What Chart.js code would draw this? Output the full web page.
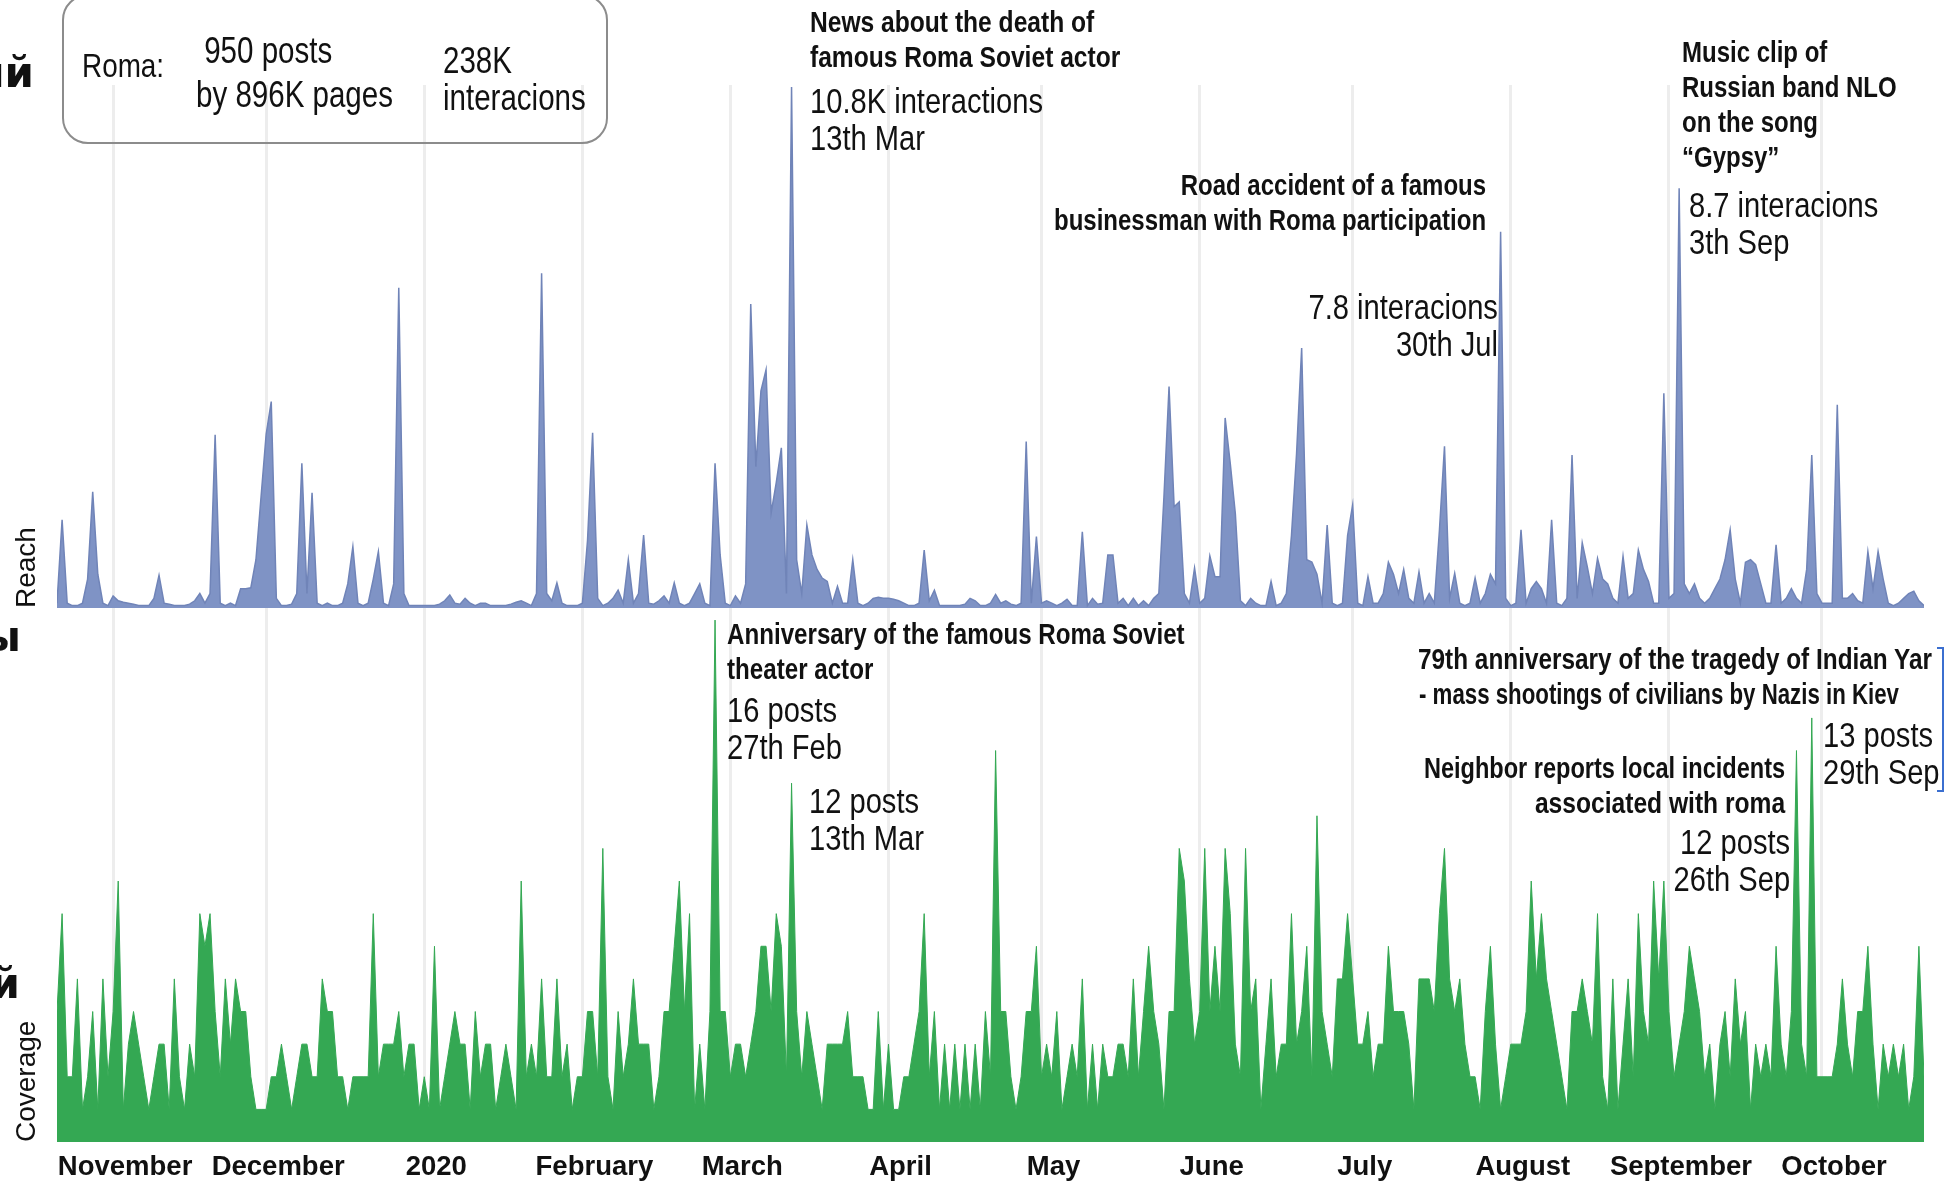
<!DOCTYPE html>
<html>
<head>
<meta charset="utf-8">
<title>Roma: reach and coverage</title>
<script src="https://cdn.jsdelivr.net/npm/chart.js@4.4.1/dist/chart.umd.min.js"></script>
<style>
  html, body { margin:0; padding:0; background:#fff; }
  #wrap { position:relative; width:1946px; height:1189px; overflow:hidden; }
  #wrap canvas { position:absolute; left:0; top:0; }
  /* narrow look: Liberation Sans squeezed horizontally */
  .note { position:absolute; white-space:nowrap; color:#111;
          font-family:'Liberation Sans',Arial,sans-serif;
          transform:scaleX(0.82); transform-origin:left top; }
  .rt { text-align:right; transform-origin:right top; }
  .hd { font-weight:bold; font-size:30px; line-height:35px; }
  .vl { font-size:35.5px; line-height:37px; }
  .cut { font-family:'DejaVu Sans','Liberation Sans',sans-serif; font-weight:bold; font-size:42px; line-height:42px;
         text-align:right; transform:none; }
  #box { position:absolute; left:62px; top:-6px; width:542px; height:146px;
         border:2px solid #8c8c8c; border-radius:26px; }
  #bracket { position:absolute; left:1937px; top:647px; width:5px; height:141px;
             border:2px solid #3b6fd0; border-left:none; }
</style>
</head>
<body>
<div id="wrap">
  <canvas id="c" width="1946" height="1189"></canvas>

  <div class="note cut" style="right:1912px; top:52px;">ий</div>
  <div class="note cut" style="right:1925px; top:616px;">ы</div>
  <div class="note cut" style="right:1926px; top:963px;">й</div>

  <div id="box"></div>
  <div class="note" style="left:82px; top:45px; font-size:34px; line-height:40px;">Roma:</div>
  <div class="note" style="left:196px; top:29px; font-size:36px; line-height:44px;">&nbsp;950 posts<br>by 896K pages</div>
  <div class="note" style="left:443px; top:42px; font-size:36px; line-height:37px;">238K<br>interacions</div>

  <div class="note hd" style="left:810px; top:4px;">News about the death of<br>famous Roma Soviet actor</div>
  <div class="note vl" style="left:810px; top:83px;">10.8K interactions<br>13th Mar</div>
  <div class="note hd rt" style="right:460px; top:167px; transform:scaleX(0.8);">Road accident of a famous<br>businessman with Roma participation</div>
  <div class="note vl rt" style="right:448px; top:289px;">7.8 interacions<br>30th Jul</div>
  <div class="note hd" style="left:1682px; top:34px; transform:scaleX(0.8);">Music clip of<br>Russian band NLO<br>on the song<br>“Gypsy”</div>
  <div class="note vl" style="left:1689px; top:187px;">8.7 interacions<br>3th Sep</div>

  <div class="note hd" style="left:727px; top:616px; transform:scaleX(0.805);">Anniversary of the famous Roma Soviet<br>theater actor</div>
  <div class="note vl" style="left:727px; top:692px;">16 posts<br>27th Feb</div>
  <div class="note vl" style="left:809px; top:783px;">12 posts<br>13th Mar</div>
  <div class="note hd" style="left:1418px; top:641px; transform:scaleX(0.812);">79th anniversary of the tragedy of Indian Yar</div>
  <div class="note hd" style="left:1419px; top:676px; transform:scaleX(0.742);">- mass shootings of civilians by Nazis in Kiev</div>
  <div class="note hd rt" style="right:161px; top:750px; transform:scaleX(0.785);">Neighbor reports local incidents</div>
  <div class="note hd rt" style="right:161px; top:785px;">associated with roma</div>
  <div class="note vl rt" style="right:156px; top:824px;">12 posts<br>26th Sep</div>
  <div class="note vl" style="left:1823px; top:717px;">13 posts<br>29th Sep</div>
  <div id="bracket"></div>
</div>

<script>
// day index 0 = 21 Oct 2019, last = 21 Oct 2020
const startDate = '2019-10-21';
const monthStart = [11, 41, 72, 103, 132, 163, 193, 224, 254, 285, 316, 346];
const monthLabels = ['November', 'December', '2020', 'February', 'March', 'April',
                     'May', 'June', 'July', 'August', 'September', 'October'];

// reach, thousand interactions per day
const reach = [
  0.1, 1.83, 0.1, 0.05, 0.05, 0.1, 0.6, 2.41, 0.7, 0.1,
  0.05, 0.25, 0.15, 0.12, 0.1, 0.08, 0.05, 0.05, 0.05, 0.2,
  0.68, 0.1, 0.08, 0.05, 0.05, 0.05, 0.08, 0.15, 0.3, 0.1,
  0.3, 3.59, 0.1, 0.05, 0.1, 0.05, 0.4, 0.4, 0.42, 1.0,
  2.3, 3.6, 4.28, 0.2, 0.05, 0.05, 0.08, 0.3, 3.0, 0.3,
  2.39, 0.1, 0.05, 0.1, 0.05, 0.05, 0.1, 0.5, 1.27, 0.1,
  0.05, 0.1, 0.6, 1.17, 0.1, 0.05, 0.5, 6.64, 0.3, 0.05,
  0.05, 0.05, 0.05, 0.05, 0.05, 0.08, 0.15, 0.27, 0.1, 0.08,
  0.2, 0.1, 0.05, 0.1, 0.1, 0.05, 0.05, 0.05, 0.05, 0.08,
  0.12, 0.15, 0.1, 0.05, 0.3, 6.94, 0.3, 0.15, 0.52, 0.1,
  0.05, 0.05, 0.05, 0.1, 1.4, 3.63, 0.2, 0.05, 0.1, 0.2,
  0.37, 0.1, 1.0, 0.1, 0.3, 1.51, 0.1, 0.08, 0.15, 0.25,
  0.1, 0.52, 0.1, 0.05, 0.1, 0.3, 0.5, 0.1, 0.05, 3.0,
  1.1, 0.1, 0.05, 0.25, 0.1, 0.5, 6.3, 2.93, 4.5, 4.94,
  1.97, 2.6, 3.32, 0.3, 10.8, 1.0, 0.3, 1.72, 1.1, 0.8,
  0.62, 0.55, 0.1, 0.45, 0.1, 0.1, 1.0, 0.1, 0.05, 0.1,
  0.2, 0.22, 0.2, 0.2, 0.18, 0.15, 0.1, 0.05, 0.05, 0.1,
  1.2, 0.15, 0.37, 0.05, 0.05, 0.05, 0.05, 0.05, 0.08, 0.2,
  0.15, 0.05, 0.05, 0.1, 0.28, 0.1, 0.15, 0.08, 0.05, 0.1,
  3.45, 0.1, 1.48, 0.1, 0.15, 0.1, 0.05, 0.1, 0.18, 0.05,
  0.05, 1.58, 0.05, 0.2, 0.08, 0.1, 1.1, 1.1, 0.1, 0.2,
  0.05, 0.2, 0.05, 0.15, 0.05, 0.2, 0.3, 2.3, 4.59, 2.1,
  2.2, 0.3, 0.1, 0.83, 0.1, 0.2, 1.08, 0.65, 0.65, 3.94,
  3.0, 1.95, 0.15, 0.05, 0.2, 0.1, 0.05, 0.05, 0.55, 0.05,
  0.1, 0.3, 1.5, 3.2, 5.39, 1.0, 0.95, 0.7, 0.1, 1.72,
  0.1, 0.05, 0.1, 1.5, 2.14, 0.1, 0.05, 0.65, 0.1, 0.1,
  0.3, 0.95, 0.7, 0.3, 0.8, 0.2, 0.1, 0.75, 0.1, 0.3,
  0.1, 1.6, 3.35, 0.2, 0.72, 0.1, 0.05, 0.1, 0.62, 0.1,
  0.3, 0.7, 0.5, 7.8, 0.2, 0.05, 0.1, 1.62, 0.1, 0.4,
  0.55, 0.4, 0.1, 1.83, 0.1, 0.05, 0.2, 3.17, 0.2, 1.35,
  0.85, 0.3, 1.03, 0.6, 0.5, 0.2, 0.1, 1.07, 0.2, 0.3,
  1.2, 0.8, 0.55, 0.1, 0.1, 4.45, 0.2, 0.3, 8.7, 0.5,
  0.3, 0.5, 0.2, 0.1, 0.2, 0.4, 0.6, 1.0, 1.62, 0.6,
  0.1, 0.95, 1.0, 0.9, 0.5, 0.1, 0.1, 1.31, 0.1, 0.2,
  0.4, 0.2, 0.1, 0.8, 3.17, 0.3, 0.1, 0.1, 0.1, 4.21,
  0.2, 0.2, 0.3, 0.15, 0.1, 1.17, 0.4, 1.17, 0.6, 0.1,
  0.05, 0.1, 0.2, 0.3, 0.35, 0.15, 0.05
];

// coverage, posts per day
const coverage = [
  4, 7, 2, 2, 5, 1, 2, 4, 1, 5,
  2, 4, 8, 1, 3, 4, 3, 2, 1, 2,
  3, 3, 1, 5, 2, 1, 3, 2, 7, 6,
  7, 4, 2, 5, 3, 5, 4, 4, 2, 1,
  1, 1, 2, 2, 3, 2, 1, 2, 3, 3,
  2, 2, 5, 4, 4, 2, 2, 1, 2, 2,
  2, 2, 7, 2, 3, 3, 3, 4, 2, 3,
  3, 1, 2, 1, 6, 1, 2, 3, 4, 3,
  3, 1, 4, 2, 3, 3, 1, 2, 3, 2,
  1, 8, 2, 3, 2, 5, 2, 2, 5, 2,
  3, 1, 2, 2, 4, 4, 2, 9, 2, 1,
  4, 2, 3, 5, 3, 3, 3, 1, 2, 4,
  4, 6, 8, 4, 7, 1, 3, 1, 4, 16,
  4, 4, 2, 3, 3, 2, 3, 4, 6, 6,
  4, 7, 6, 2, 11, 4, 2, 4, 3, 2,
  1, 3, 3, 3, 3, 4, 2, 2, 2, 1,
  1, 4, 1, 3, 1, 1, 2, 2, 3, 4,
  7, 2, 4, 1, 3, 1, 3, 1, 3, 1,
  3, 1, 4, 2, 12, 4, 4, 2, 1, 2,
  4, 4, 6, 2, 3, 2, 4, 1, 2, 3,
  2, 5, 1, 3, 1, 3, 2, 2, 3, 3,
  2, 5, 2, 4, 6, 4, 3, 1, 4, 4,
  9, 8, 5, 3, 4, 9, 4, 6, 4, 9,
  7, 3, 2, 9, 4, 5, 1, 3, 5, 2,
  3, 3, 7, 3, 4, 6, 2, 10, 4, 3,
  2, 5, 5, 7, 5, 3, 3, 4, 2, 3,
  3, 6, 4, 4, 4, 3, 1, 5, 5, 5,
  4, 7, 9, 5, 4, 5, 3, 2, 2, 1,
  4, 6, 3, 1, 2, 3, 3, 3, 4, 8,
  5, 7, 5, 4, 3, 2, 1, 4, 4, 5,
  4, 3, 7, 2, 1, 5, 1, 3, 5, 2,
  7, 4, 3, 8, 5, 8, 4, 2, 3, 4,
  6, 5, 4, 2, 3, 1, 3, 4, 2, 5,
  3, 4, 1, 3, 2, 3, 2, 6, 3, 2,
  4, 12, 3, 2, 13, 2, 2, 2, 2, 3,
  5, 3, 2, 4, 4, 6, 3, 1, 3, 2,
  3, 2, 3, 1, 2, 6, 2
];

const sans = "'Liberation Sans', Arial, sans-serif";

new Chart(document.getElementById('c'), {
  type: 'line',
  data: {
    datasets: [
      {
        label: 'Reach', yAxisID: 'yReach',
        data: reach.map((v, i) => ({ x: i, y: v })),
        fill: 'origin', backgroundColor: '#7f93c5', borderColor: '#7084b8',
        borderWidth: 1.5, pointRadius: 0, tension: 0
      },
      {
        label: 'Coverage', yAxisID: 'yCov',
        data: coverage.map((v, i) => ({ x: i, y: v })),
        fill: 'origin', backgroundColor: '#34a853', borderColor: '#34a853',
        borderWidth: 1, pointRadius: 0, tension: 0
      }
    ]
  },
  options: {
    responsive: false, animation: false, devicePixelRatio: 1,
    layout: { padding: { top: 85, left: 0, right: 22, bottom: 0 } },
    plugins: { legend: { display: false }, tooltip: { enabled: false } },
    scales: {
      x: {
        type: 'linear', min: 0, max: 366,
        afterBuildTicks: s => { s.ticks = monthStart.map(v => ({ value: v })); },
        afterFit: s => { s.height = 47; },
        ticks: {
          autoSkip: false, maxRotation: 0, labelOffset: 12, padding: 9, color: '#111',
          font: { family: sans, size: 27.5, weight: 'bold' },
          callback: v => monthLabels[monthStart.indexOf(v)]
        },
        grid: { color: 'rgba(0,0,0,0.07)', lineWidth: 3, drawTicks: false },
        border: { display: false }
      },
      yCov: {
        position: 'left', stack: 'panels', stackWeight: 534, min: 0, max: 16.37,
        afterFit: s => { s.width = 57; },
        ticks: { display: false }, grid: { display: false }, border: { display: false },
        title: { display: true, text: 'Coverage', align: 'start', color: '#111',
                 font: { family: sans, size: 28 }, padding: { top: 10, bottom: 0 } }
      },
      yReach: {
        position: 'left', stack: 'panels', stackWeight: 523, min: 0, max: 10.84,
        afterFit: s => { s.width = 57; },
        ticks: { display: false }, grid: { display: false }, border: { display: false },
        title: { display: true, text: 'Reach', align: 'start', color: '#111',
                 font: { family: sans, size: 28 }, padding: { top: 10, bottom: 0 } }
      }
    }
  }
});
</script>
</body>
</html>
